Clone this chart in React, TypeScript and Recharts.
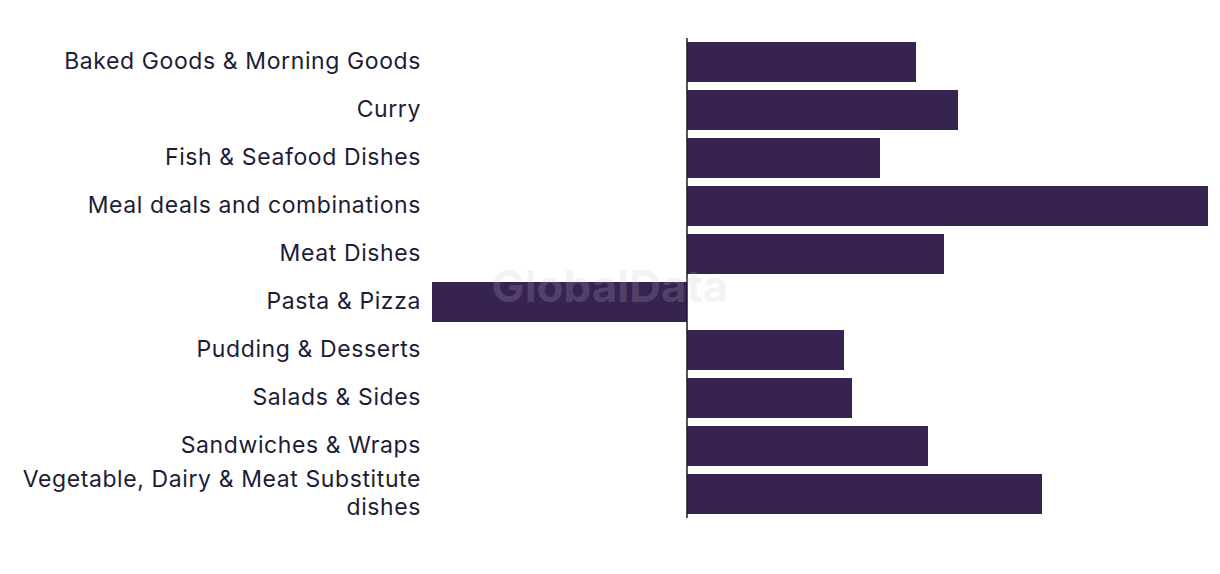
import React from "react";
import { BarChart, Bar, XAxis, YAxis, ReferenceLine } from "recharts";

const categories = [
  "Baked Goods & Morning Goods",
  "Curry",
  "Fish & Seafood Dishes",
  "Meal deals and combinations",
  "Meat Dishes",
  "Pasta & Pizza",
  "Pudding & Desserts",
  "Salads & Sides",
  "Sandwiches & Wraps",
  "Vegetable, Dairy & Meat Substitute dishes",
];

const values = [22.9, 27.1, 19.3, 52.1, 25.7, -25.5, 15.7, 16.5, 24.1, 35.5];

const data = categories.map((name, i) => ({ name, value: values[i] }));

const FONT = "Inter, sans-serif";
const TEXT_COLOR = "#1d1d35";
const BAR_COLOR = "#372352";
const MAX_CHARS = 34;
const LINE_HEIGHT = 28;

function wrap(label: string): string[] {
  const words = label.split(" ");
  const lines: string[] = [];
  let cur = "";
  for (const w of words) {
    const next = cur ? cur + " " + w : w;
    if (next.length > MAX_CHARS && cur) {
      lines.push(cur);
      cur = w;
    } else {
      cur = next;
    }
  }
  if (cur) lines.push(cur);
  return lines;
}

const CategoryTick = (props: any) => {
  const { x, y, payload } = props;
  const lines = wrap(String(payload.value));
  const first = y + 7 - ((lines.length - 1) * LINE_HEIGHT) / 2;
  return (
    <text
      textAnchor="end"
      style={{ fontFamily: FONT, fontSize: 23, letterSpacing: 0.6 }}
      fill={TEXT_COLOR}
    >
      {lines.map((l, i) => (
        <tspan key={i} x={x} y={first + i * LINE_HEIGHT}>
          {l}
        </tspan>
      ))}
    </text>
  );
};

export default function App() {
  return (
    <div style={{ position: "absolute", left: 0, top: 0, width: 1220, height: 574, background: "#fff" }}>
      <BarChart
        width={1220}
        height={574}
        data={data}
        layout="vertical"
        margin={{ top: 38, right: 12, bottom: 56, left: 0 }}
        barCategoryGap={4}
      >
        <XAxis type="number" domain={["dataMin", "dataMax"]} hide />
        <YAxis
          type="category"
          dataKey="name"
          width={432}
          axisLine={false}
          tickLine={false}
          tickMargin={5}
          interval={0}
          tick={<CategoryTick />}
        />
        <Bar dataKey="value" fill={BAR_COLOR} barSize={40} isAnimationActive={false} />
        <ReferenceLine x={0} stroke="#1a1a2e" strokeWidth={1.5} />
      </BarChart>
      <svg
        width={1220}
        height={574}
        style={{ position: "absolute", left: 0, top: 0, pointerEvents: "none" }}
      >
        <text
          x={610}
          y={302}
          textAnchor="middle"
          style={{ fontFamily: "Inter, sans-serif", fontWeight: 700, fontSize: 44 }}
          fill="#c2c2c8"
          fillOpacity={0.2}
        >
          GlobalData
        </text>
      </svg>
    </div>
  );
}
